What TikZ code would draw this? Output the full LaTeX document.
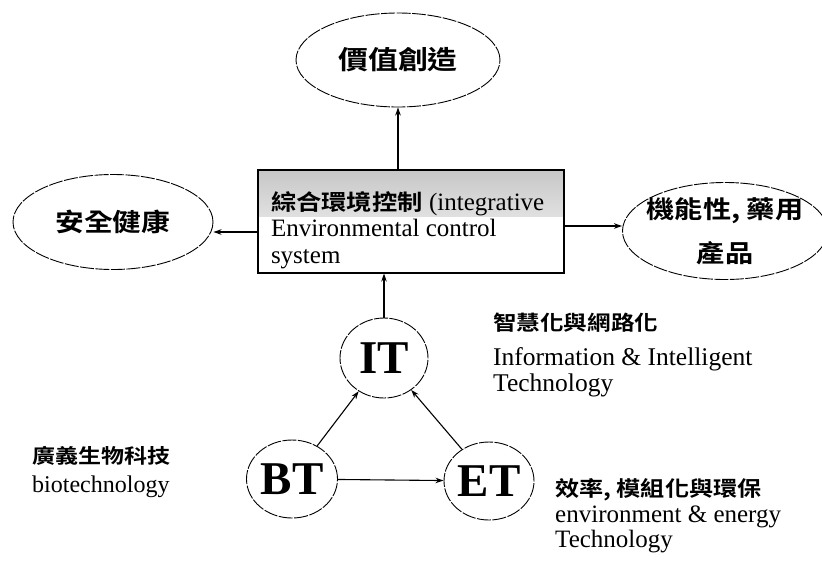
\documentclass[tikz,border=0pt]{standalone}
\usepackage{fontspec}
\setmainfont{Liberation Serif}
\newfontfamily\cjk{Noto Sans CJK TC}[FakeStretch=1.15,BoldFont={Noto Sans CJK TC Bold}]
\usetikzlibrary{shapes.geometric,arrows.meta,calc}
\newcommand\myfs[1]{\fontsize{#1}{#1}\selectfont}
\begin{document}
\begin{tikzpicture}[x=1pt,y=-1pt,
  oval/.style={ellipse,draw,line width=0.9pt,inner sep=0pt,dash pattern=on 14pt off 1.5pt},
  arr/.style={-{Stealth[length=8pt,width=5.5pt]},line width=1.1pt},
  txt/.style={anchor=base west,inner sep=0pt},
  zhfont/.style={font=\cjk\bfseries\myfs{#1}},
  enfont/.style={font=\myfs{#1}}]
\useasboundingbox (0,0) rectangle (822,560);

% top-level ovals
\node[oval,minimum width=204pt,minimum height=94pt,zhfont=26pt] (v) at (398,60) {價值創造};
\node[oval,minimum width=200pt,minimum height=95pt,zhfont=25pt] (s) at (113,222) {安全健康};
\node[oval,minimum width=205pt,minimum height=97pt,inner xsep=-14pt,align=center,
      font=\cjk\bfseries\fontsize{24.5pt}{44pt}\selectfont] (f) at (725,231) {機能性, 藥用\\產品};

% central box
\node[draw,line width=1.1pt,minimum width=306pt,minimum height=103pt,text width=280pt,
      inner xsep=13pt,inner ysep=0pt,align=flush left,font=\fontsize{25pt}{26.5pt}\selectfont,
      path picture={\shade[top color=black!22,bottom color=white]
        (path picture bounding box.north west) rectangle
        ([yshift=-46pt]path picture bounding box.north east);}]
  (box) at (411,221.5)
  {\rule{0pt}{36pt}{\cjk\bfseries\myfs{22pt}綜合環境控制} (integrative\\Environmental control\\system};

% technology circles
\node[oval,minimum width=88pt,minimum height=80pt,font=\bfseries\myfs{47pt}] (IT) at (384,358) {IT};
\node[oval,minimum width=91pt,minimum height=78pt,font=\bfseries\myfs{47pt}] (BT) at (292,479) {BT};
\node[oval,minimum width=90pt,minimum height=78pt,font=\bfseries\myfs{47pt}] (ET) at (489,481) {ET};

% connectors
\coordinate (ly) at (0,232);
\coordinate (ry) at (0,226);
\draw[arr] (box.north -| v.south) -- (v.south);
\draw[arr] (box.west |- ly) -- (s.east |- ly);
\draw[arr] (box.east |- ry) -- (f.west |- ry);
\draw[arr] (IT.north) -- (box.south -| IT.north);
\draw[arr] (BT) -- (IT);
\draw[arr] (ET) -- (IT);
\draw[arr] (BT) -- (ET);

% side texts
\node[txt,zhfont=20.5pt] (itzh) at (493,330) {智慧化與網路化};
\node[txt,enfont=25.5pt] (iten) at (493,365) {Information \& Intelligent};
\node[txt,enfont=25.5pt] (itte) at (493,391) {Technology};

\node[txt,zhfont=20pt] (btzh) at (32,463) {廣義生物科技};
\node[txt,enfont=24pt] (bten) at (32,492) {biotechnology};

\node[txt,zhfont=21pt] (etzh) at (555,496) {效率, 模組化與環保};
\node[txt,enfont=25pt] (eten) at (555,522) {environment \& energy};
\node[txt,enfont=25pt] (ette) at (555,547) {Technology};
\end{tikzpicture}
\end{document}
